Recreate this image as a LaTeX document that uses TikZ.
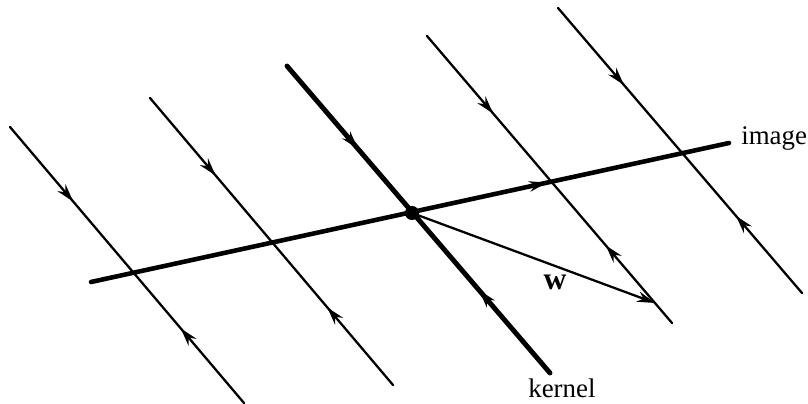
\documentclass[tikz,border=0pt]{standalone}
\usepackage{fontspec}
\setmainfont{Liberation Serif}
\usetikzlibrary{arrows.meta,decorations.markings}
\tikzset{
  >={Stealth[length=3.6mm,width=2.1mm]},
  fib/.style={line width=1.3pt,line cap=round,postaction=decorate,
    decoration={markings,mark=at position 0.27 with {\arrow{>}},
      mark=at position 0.73 with {\arrowreversed{>}}}},
  kern/.style={fib,line width=2.8pt},
  img/.style={line width=2.6pt,line cap=round,postaction=decorate,
    decoration={markings,mark=at position 0.715 with {\arrow{>}}}},
  vec/.style={->,line width=1.3pt},
  lbl/.style={font=\fontsize{15.3}{18}\selectfont,inner sep=0pt},
  origin/.style={circle,fill=black,inner sep=0pt,minimum size=8pt},
}
\begin{document}
\begin{tikzpicture}[x=0.02cm,y=-0.02cm]
  \useasboundingbox (0,0) rectangle (808,404);
  % fibres parallel to the kernel
  \foreach \i/\xa/\ya/\xb/\yb in {1/10/127/244/403, 2/150/98/393/385,
      4/427/36/672/323, 5/558/8/802/293} {
    \coordinate (f\i-a) at (\xa,\ya);
    \coordinate (f\i-b) at (\xb,\yb);
    \draw[fib] (f\i-a) -- (f\i-b);
  }
  % kernel and image
  \coordinate (ker-a) at (287,66);
  \coordinate (ker-b) at (550,373);
  \draw[kern] (ker-a) -- (ker-b);
  \coordinate (im-a) at (91,282);
  \coordinate (im-b) at (729,143);
  \draw[img] (im-a) -- (im-b);
  \node[origin] (O) at (412,213) {};
  \coordinate (W) at (655,303);
  \draw[vec] (O.center) -- (W);
  \node[lbl,anchor=base west] (imlabel) at (741,145) {image};
  \node[lbl,anchor=base west] (kerlabel) at (528,398) {kernel};
  \node[lbl,font=\fontsize{18}{20}\selectfont] (wlabel) at (555,282) {\textbf{w}};
\end{tikzpicture}
\end{document}
